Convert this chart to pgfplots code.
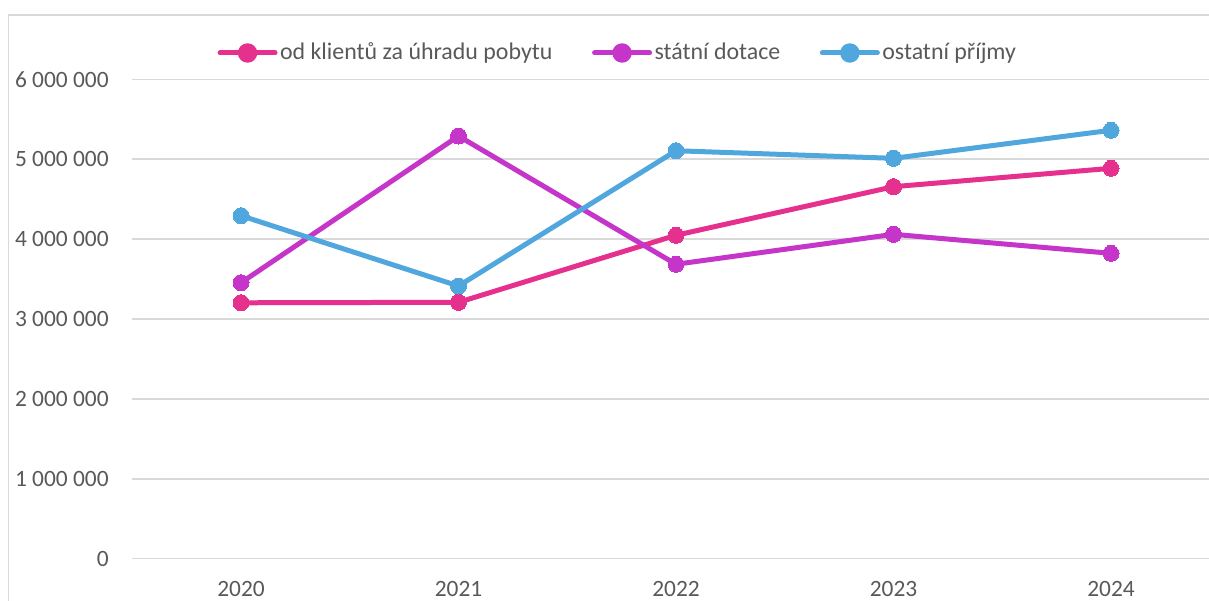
\documentclass[border=0pt]{standalone}
\usepackage{fontspec}
\setmainfont{Carlito}
\usepackage{pgfplots}
\pgfplotsset{compat=1.18}
\definecolor{cpink}{HTML}{E5308D}
\definecolor{cpurple}{HTML}{C535C9}
\definecolor{cblue}{HTML}{4FA7DE}
\definecolor{ctext}{HTML}{595959}
\definecolor{cgrid}{HTML}{D9D9D9}
\begin{document}
\begin{tikzpicture}
\useasboundingbox (0,0) rectangle (604.5pt,300pt);
\clip (0,0) rectangle (604.5pt,300pt);
\draw[cgrid, line width=0.75pt] (4.25pt,-5pt) -- (4.25pt,292.5pt) -- (620pt,292.5pt);
\begin{axis}[
  at={(66.125pt,20.65pt)}, anchor=south west,
  width=543.75pt, height=239.7pt, scale only axis,
  xmin=-0.5, xmax=4.5, ymin=0, ymax=6000000,
  scaled y ticks=false,
  axis line style={draw=none},
  major tick length=0pt,
  xtick={0,1,2,3,4},
  xticklabels={2020,2021,2022,2023,2024},
  ytick={0,1000000,2000000,3000000,4000000,5000000,6000000},
  yticklabels={0,1 000 000,2 000 000,3 000 000,4 000 000,5 000 000,6 000 000},
  ymajorgrids,
  grid style={cgrid, line width=0.75pt},
  every tick label/.append style={font=\fontsize{11.7}{14}\selectfont, text=ctext},
  yticklabel style={anchor=east, inner sep=0pt, xshift=-11.6pt},
  xticklabel style={anchor=base, inner sep=0pt, yshift=-19pt},
  clip=false,
  legend columns=3,
  legend style={draw=none, fill=none, at={(0.4467,1.0549)}, anchor=center,
    font=\fontsize{11.95}{14}\selectfont, text=ctext,
    inner sep=0pt,
    nodes={inner sep=1.25pt},
    /tikz/every even column/.append style={column sep=18.5pt}},
  legend image code/.code={
    \draw[#1, mark=none, line cap=round] (0pt,0pt) -- (27.5pt,0pt);
    \fill[#1] (13.75pt,0pt) circle (3.6pt);
  },
  every axis plot/.append style={line width=2.5pt, line join=round, mark=*, mark size=4pt},
]
\addplot[cpink, mark options={fill=cpink, draw=cpink, line width=0pt}] coordinates {
  (0,3203000) (1,3209000) (2,4048000) (3,4656000) (4,4886000)};
\addlegendentry{od klientů za úhradu pobytu}
\addplot[cpurple, mark options={fill=cpurple, draw=cpurple, line width=0pt}] coordinates {
  (0,3454000) (1,5290000) (2,3685000) (3,4060000) (4,3822000)};
\addlegendentry{státní dotace}
\addplot[cblue, mark options={fill=cblue, draw=cblue, line width=0pt}] coordinates {
  (0,4293000) (1,3413000) (2,5106000) (3,5011000) (4,5362000)};
\addlegendentry{ostatní příjmy}
\end{axis}
\end{tikzpicture}
\end{document}
